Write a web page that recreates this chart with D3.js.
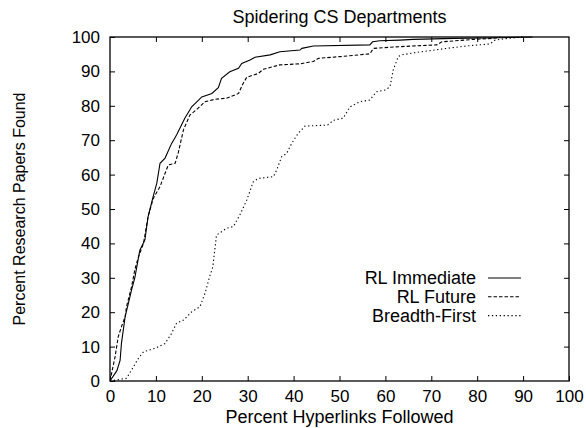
<!DOCTYPE html>
<html>
<head>
<meta charset="utf-8">
<script src="https://cdn.jsdelivr.net/npm/d3@7/dist/d3.min.js"></script>
<style>
  body { margin: 0; background: #fff; }
  svg { display: block; font-family: "Liberation Sans", Arial, sans-serif; }
</style>
</head>
<body>
<svg id="chart" width="586" height="428"></svg>
<script>
const xTicks = [0, 10, 20, 30, 40, 50, 60, 70, 80, 90, 100];
const yTicks = [0, 10, 20, 30, 40, 50, 60, 70, 80, 90, 100];

// RL Immediate (solid)
const immX = [0, 1.5, 2.2, 2.5, 3.3, 4, 4.7, 5.4, 6.5, 7.6, 8.3, 9.4, 10.2, 10.9, 12, 13.4, 14.5, 16.3, 17.8, 20, 22.2, 23.6, 24.3, 26.1, 28, 28.7, 30.5, 31.6, 34.9, 37, 41.4, 41.8, 44.3, 56.6, 57.2, 58.8, 63.2, 66, 75, 85, 92];
const immY = [0, 3, 6, 11, 18.7, 22.6, 26.5, 30, 38, 41, 47.8, 53.6, 57.5, 63.3, 64.8, 69, 71.5, 76.4, 79.7, 82.6, 83.6, 85.3, 88, 89.9, 90.9, 92.3, 93.3, 94.1, 94.8, 95.7, 96.2, 96.7, 97.4, 97.7, 98.6, 98.9, 99.1, 99.3, 99.6, 99.8, 100];

// RL Future (dashed)
const futX = [0, 1.1, 1.8, 2.5, 3.3, 3.6, 4.7, 5.4, 6.2, 7.3, 8.3, 9.4, 10.9, 12, 12.7, 14.2, 14.9, 16, 17.4, 19.2, 20.7, 22.9, 25.4, 28, 29, 29.8, 32.3, 33.4, 37, 41.4, 44.3, 45.4, 50.1, 56.6, 57.4, 63.2, 71.2, 72.3, 79.2, 83.4, 85];
const futY = [0, 7, 12.9, 15.8, 18.7, 21.6, 27.4, 32.3, 36.1, 40, 47.8, 53, 56.5, 60.4, 62.8, 63.3, 66.5, 73, 77.3, 79.3, 81.2, 81.9, 82.2, 83.6, 86.5, 88.3, 89.4, 90.6, 91.9, 92.2, 92.9, 93.8, 94.3, 95.1, 96.7, 97.2, 97.7, 98.6, 99.3, 99.6, 100];

// Breadth-First (dotted)
const bfsX = [0, 3.6, 4.7, 6.2, 7.3, 9.8, 12, 13.4, 14.5, 16, 17.8, 19.6, 20.7, 21.8, 22.2, 22.4, 23.2, 25.4, 26.9, 28.3, 29.8, 31.2, 32.3, 35.6, 36.3, 37.4, 38.5, 39.6, 41, 42.5, 47.4, 48.7, 50.8, 52.3, 54.5, 56.6, 58.1, 59.9, 61, 61.7, 62.8, 63.6, 66.1, 73.4, 77.7, 82.8, 83.9, 86, 90];
const bfsY = [0, 0.8, 3.2, 6.6, 8.5, 9.5, 10.9, 13.8, 16.8, 17.7, 20.1, 21.6, 25.5, 30.8, 32.3, 33.2, 42.4, 44.4, 44.9, 48.3, 52.6, 57.9, 58.9, 59.4, 61.3, 65.2, 66.2, 69.1, 72, 74.1, 74.4, 75.8, 76.4, 79.7, 81.2, 81.7, 84.1, 84.6, 85.5, 90.4, 94.3, 94.8, 95.4, 96.7, 97.4, 98, 99.1, 99.5, 100];

const series = [
  { name: "RL Immediate", xs: immX, ys: immY, dash: null },
  { name: "RL Future", xs: futX, ys: futY, dash: "3.5,2" },
  { name: "Breadth-First", xs: bfsX, ys: bfsY, dash: "1.3,2.6" }
];

const svg = d3.select("#chart");
const m = { left: 110, right: 569, top: 37, bottom: 381 };

const x = d3.scaleLinear().domain([0, 100]).range([m.left, m.right]);
const y = d3.scaleLinear().domain([0, 100]).range([m.bottom, m.top]);

// axes with inward ticks
svg.append("g")
  .attr("transform", `translate(0,${m.bottom})`)
  .call(d3.axisBottom(x).tickValues(xTicks).tickSize(-5).tickPadding(9))
  .call(g => g.select(".domain").remove());
svg.append("g")
  .attr("transform", `translate(0,${m.top})`)
  .call(d3.axisTop(x).tickValues(xTicks.slice(1, -1)).tickSize(-5).tickFormat(""))
  .call(g => g.select(".domain").remove());
svg.append("g")
  .attr("transform", `translate(${m.left},0)`)
  .call(d3.axisLeft(y).tickValues(yTicks).tickSize(-5).tickPadding(10))
  .call(g => g.select(".domain").remove());
svg.append("g")
  .attr("transform", `translate(${m.right},0)`)
  .call(d3.axisRight(y).tickValues(yTicks.slice(1, -1)).tickSize(-5).tickFormat(""))
  .call(g => g.select(".domain").remove());

svg.selectAll(".tick line").attr("stroke", "#000");
svg.selectAll(".tick text")
  .attr("font-size", "17px")
  .attr("fill", "#000")
  .attr("font-family", "Liberation Sans, Arial, sans-serif");

svg.append("rect")
  .attr("x", m.left).attr("y", m.top)
  .attr("width", m.right - m.left).attr("height", m.bottom - m.top)
  .attr("fill", "none").attr("stroke", "#000").attr("stroke-width", 1.3);

svg.append("clipPath").attr("id", "clip")
  .append("rect")
  .attr("x", m.left).attr("y", m.top - 1)
  .attr("width", m.right - m.left).attr("height", m.bottom - m.top + 2);

const line = d3.line()
  .x(d => x(d[0]))
  .y(d => y(d[1]));

series.forEach(s => {
  const pts = s.xs.map((v, i) => [v, s.ys[i]]);
  svg.append("path")
    .datum(pts)
    .attr("clip-path", "url(#clip)")
    .attr("fill", "none")
    .attr("stroke", "#000")
    .attr("stroke-width", 1.1)
    .attr("stroke-dasharray", s.dash)
    .attr("d", line);
});

// legend
const legend = svg.append("g");
series.forEach((s, i) => {
  const ly = 278 + i * 18.8;
  legend.append("text")
    .attr("x", 476).attr("y", ly)
    .attr("dy", "0.35em")
    .attr("text-anchor", "end")
    .attr("font-size", "18px")
    .text(s.name);
  legend.append("line")
    .attr("x1", 488).attr("x2", 521)
    .attr("y1", ly).attr("y2", ly)
    .attr("stroke", "#000")
    .attr("stroke-width", 1.1)
    .attr("stroke-dasharray", s.dash);
});

// titles
svg.append("text")
  .attr("x", (m.left + m.right) / 2).attr("y", 23)
  .attr("text-anchor", "middle")
  .attr("font-size", "18px")
  .text("Spidering CS Departments");
svg.append("text")
  .attr("x", (m.left + m.right) / 2).attr("y", 423)
  .attr("text-anchor", "middle")
  .attr("font-size", "18px")
  .text("Percent Hyperlinks Followed");
svg.append("text")
  .attr("transform", `translate(25,${(m.top + m.bottom) / 2}) rotate(-90)`)
  .attr("text-anchor", "middle")
  .attr("font-size", "16px")
  .text("Percent Research Papers Found");
</script>
</body>
</html>
